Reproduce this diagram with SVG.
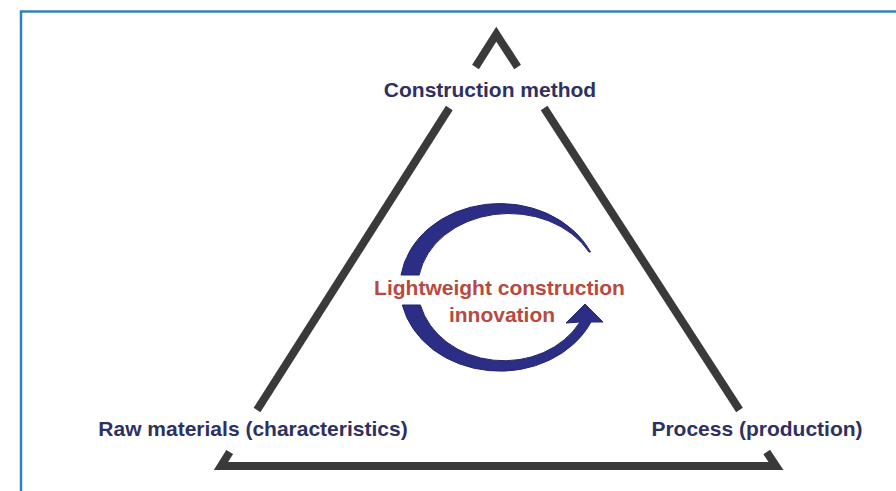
<svg xmlns="http://www.w3.org/2000/svg" width="896" height="491" viewBox="0 0 896 491">
  <style>
    .frame { fill: none; stroke: #3382b6; stroke-width: 2.5; }
    .tri { fill: none; stroke: #3a3a3a; stroke-width: 8; stroke-linejoin: miter; stroke-linecap: butt; }
    .lbl { font-family: "Liberation Sans", Arial, sans-serif; font-weight: bold; font-size: 21px; fill: #2f3062; text-anchor: middle; }
    .ctr { font-family: "Liberation Sans", Arial, sans-serif; font-weight: bold; font-size: 21px; fill: #b8493f; text-anchor: middle; }
    .cyc { fill: #2c2e86; stroke: #23256e; stroke-width: 1; }
  </style>
  <rect x="0" y="0" width="896" height="491" fill="#ffffff"/>
  <path class="frame" d="M21,491 L21,11.5 L896,11.5"/>

  <g id="connectors">
    <polyline class="tri" points="475.5,67 496.3,34.2 517.6,67"/>
    <line class="tri" x1="449.3" y1="108" x2="257" y2="410"/>
    <line class="tri" x1="544.1" y1="108" x2="739.5" y2="410"/>
    <polyline class="tri" points="229.7,452 221,466 776,466 766.7,452"/>
  </g>

  <g id="node-construction-method">
    <text class="lbl" x="490" y="97">Construction method</text>
  </g>

  <g id="node-raw-materials">
    <text class="lbl" x="253" y="436">Raw materials (characteristics)</text>
  </g>

  <g id="node-process">
    <text class="lbl" x="757" y="436">Process (production)</text>
  </g>

  <g id="node-innovation">
    <path class="cyc" d="M590.5,252 A100,84 0 0 0 401,275 L419.2,275 A91,73.5 0 0 1 589,252 Z"/>
    <path class="cyc" d="M402.3,305 A100,84 0 0 0 591,322 L603,322 L585,304 L566,323 L580,322 A86.2,73.5 0 0 1 420.4,305 Z"/>
    <text class="ctr" x="499.5" y="295">Lightweight construction</text>
    <text class="ctr" x="502" y="322">innovation</text>
  </g>
</svg>
